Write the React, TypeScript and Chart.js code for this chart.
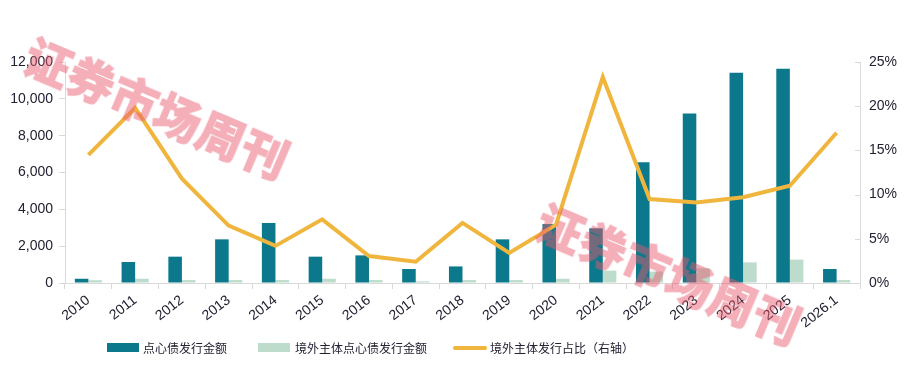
import React, { useEffect, useRef } from 'react';
import { Chart, registerables } from 'chart.js';

Chart.register(...registerables);

const categories = ['2010', '2011', '2012', '2013', '2014', '2015', '2016', '2017', '2018', '2019', '2020', '2021', '2022', '2023', '2024', '2025', '2026.1'];
const dimSumIssuance = [230, 1140, 1430, 2370, 3260, 1430, 1500, 760, 900, 2370, 3200, 2970, 6550, 9210, 11420, 11640, 760];
const offshoreIssuance = [150, 230, 160, 160, 160, 230, 160, 90, 160, 160, 230, 670, 620, 800, 1120, 1270, 160];
const offshoreShare = [14.5, 19.8, 11.8, 6.5, 4.2, 7.2, 3.05, 2.4, 6.8, 3.4, 6.6, 23.3, 9.5, 9.1, 9.7, 11.0, 17.0];

const seriesNames = ['点心债发行金额', '境外主体点心债发行金额', '境外主体发行占比（右轴）'];
const watermarkText = '证券市场周刊';

const TEAL = '#0b788b';
const MINT = '#bddccb';
const GOLD = '#f0b53d';
const AXIS = '#d9d9d9';
const TEXT = '#222233';

const innerRightTicks = {
  id: 'innerRightTicks',
  afterDraw(chart: any) {
    const s = chart.scales.y1;
    if (!s) return;
    const ctx = chart.ctx;
    ctx.save();
    ctx.strokeStyle = AXIS;
    ctx.lineWidth = 1;
    s.ticks.forEach((t: any) => {
      const y = Math.round(s.getPixelForValue(t.value)) + 0.5;
      ctx.beginPath();
      ctx.moveTo(s.left - 5, y);
      ctx.lineTo(s.left, y);
      ctx.stroke();
    });
    ctx.restore();
  },
};

export default function App() {
  const ref = useRef<HTMLCanvasElement | null>(null);

  useEffect(() => {
    document.body.style.margin = '0';
    const canvas = ref.current;
    if (!canvas) return;
    const tickFont = { family: '"Liberation Sans", Arial, sans-serif', size: 14 };
    const chart = new Chart(canvas, {
      type: 'bar',
      data: {
        labels: categories,
        datasets: [
          {
            type: 'line',
            label: seriesNames[2],
            data: offshoreShare,
            yAxisID: 'y1',
            borderColor: GOLD,
            backgroundColor: GOLD,
            borderWidth: 4,
            pointRadius: 0,
            tension: 0,
            order: 0,
          } as any,
          {
            type: 'bar',
            label: seriesNames[0],
            data: dimSumIssuance,
            yAxisID: 'y',
            backgroundColor: TEAL,
            categoryPercentage: 0.58,
            barPercentage: 1,
            order: 1,
          },
          {
            type: 'bar',
            label: seriesNames[1],
            data: offshoreIssuance,
            yAxisID: 'y',
            backgroundColor: MINT,
            categoryPercentage: 0.58,
            barPercentage: 1,
            order: 2,
          },
        ],
      },
      options: {
        animation: false,
        responsive: false,
        maintainAspectRatio: false,
        layout: { padding: { top: 62, bottom: 30, left: 0, right: 0 } },
        plugins: {
          legend: { display: false },
          tooltip: { enabled: false },
        },
        scales: {
          x: {
            offset: true,
            grid: { display: true, drawOnChartArea: false, offset: true, color: AXIS, tickLength: 6 },
            border: { color: AXIS },
            ticks: { font: tickFont, color: TEXT, minRotation: 38, maxRotation: 38, padding: 3, autoSkip: false },
            afterFit: (s: any) => { s.height = 53; },
          },
          y: {
            position: 'left',
            min: 0,
            max: 12000,
            grid: { drawOnChartArea: false, color: AXIS, tickLength: 6 },
            border: { color: AXIS },
            ticks: {
              stepSize: 2000,
              font: tickFont,
              color: TEXT,
              padding: 6,
              callback: (v: any) => Number(v).toLocaleString('en-US'),
            },
            afterFit: (s: any) => { s.width = 65; },
          },
          y1: {
            position: 'right',
            min: 0,
            max: 25,
            grid: { drawOnChartArea: false, drawTicks: false, color: AXIS },
            border: { color: AXIS },
            ticks: {
              stepSize: 5,
              font: tickFont,
              color: TEXT,
              padding: 9,
              callback: (v: any) => `${v}%`,
            },
            afterFit: (s: any) => { s.width = 54; },
          },
        },
      },
      plugins: [innerRightTicks],
    });
    return () => chart.destroy();
  }, []);

  const legendFont: React.CSSProperties = {
    position: 'absolute',
    top: 340,
    fontFamily: '"Noto Sans CJK SC", sans-serif',
    fontSize: 12,
    lineHeight: '16px',
    color: TEXT,
    whiteSpace: 'nowrap',
  };

  const wm: React.CSSProperties = {
    position: 'absolute',
    transform: 'translate(-50%, -50%) rotate(23deg)',
    fontFamily: '"Noto Sans CJK SC", serif',
    fontWeight: 700,
    fontSize: 46,
    letterSpacing: 1,
    color: '#e9596d',
    WebkitTextStroke: '2px #e9596d',
    opacity: 0.48,
    whiteSpace: 'nowrap',
    pointerEvents: 'none',
    lineHeight: 1,
  };

  return (
    <div style={{ position: 'relative', width: 914, height: 366, background: '#fff', overflow: 'hidden' }}>
      <canvas ref={ref} width={914} height={366} style={{ display: 'block', width: 914, height: 366 }} />
      <div style={{ position: 'absolute', left: 107, top: 343, width: 32, height: 9, background: TEAL }} />
      <div style={{ ...legendFont, left: 143 }}>{seriesNames[0]}</div>
      <div style={{ position: 'absolute', left: 258, top: 343, width: 32, height: 9, background: MINT }} />
      <div style={{ ...legendFont, left: 295 }}>{seriesNames[1]}</div>
      <div style={{ position: 'absolute', left: 453, top: 346, width: 34, height: 4, background: GOLD, borderRadius: 2 }} />
      <div style={{ ...legendFont, left: 490 }}>{seriesNames[2]}</div>
      <div style={{ ...wm, left: 158, top: 106 }}>{watermarkText}</div>
      <div style={{ ...wm, left: 670, top: 272 }}>{watermarkText}</div>
    </div>
  );
}
